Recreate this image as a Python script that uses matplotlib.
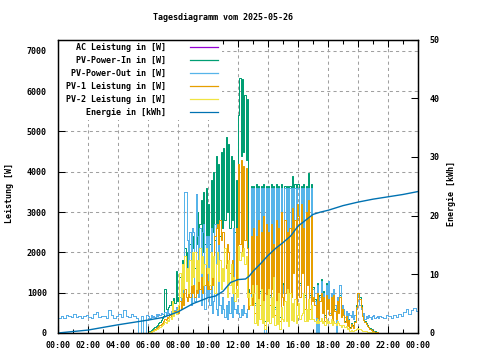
import numpy as np
import matplotlib
matplotlib.use("Agg")
import matplotlib.pyplot as plt
from matplotlib.ticker import MultipleLocator, FixedLocator, FixedFormatter
from matplotlib.lines import Line2D
from matplotlib.patches import Rectangle

plt.rcParams['font.family'] = ['DejaVu Sans Mono']
plt.rcParams['font.weight'] = 'bold'

title = "Tagesdiagramm vom 2025-05-26"
series_labels = ["AC Leistung in [W]", "PV-Power-In in [W]", "PV-Power-Out in [W]",
                 "PV-1 Leistung in [W]", "PV-2 Leistung in [W]", "Energie in [kWh]"]
series_colors = ["#9400d3", "#009e73", "#56b4e9", "#e69f00", "#f0e442", "#0072b2"]
hour_ticks = [0, 2, 4, 6, 8, 10, 12, 14, 16, 18, 20, 22, 24]
hour_labels = ["00:00", "02:00", "04:00", "06:00", "08:00", "10:00", "12:00",
               "14:00", "16:00", "18:00", "20:00", "22:00", "00:00"]
power_ticks = [0, 1000, 2000, 3000, 4000, 5000, 6000, 7000]
energy_ticks = [0, 10, 20, 30, 40, 50]

# time axes (hours): night at 10 min, day 06:00-21:25 at 5 min
t_am = np.arange(0, 36) / 6.0
t_day = np.arange(72, 258) / 12.0
t_pm = np.arange(129, 145) / 6.0

pv_out_am = [380, 420, 360, 450, 430, 400,
             470, 390, 420, 360, 410, 450,
             400, 370, 480, 520, 390, 430,
             410, 360, 580, 440, 380, 420,
             480, 400, 570, 420, 390, 460,
             430, 380, 0, 420, 0, 450]
pv_out_pm = [400, 380, 450, 420, 360, 440, 400, 470, 430, 520, 600, 480, 560, 620, 540, 600]

pv_out_day = [
    420, 380, 450, 400, 430, 390, 460, 420, 480, 440, 500, 460,
    480, 520, 440, 560, 500, 470, 540, 600, 520, 580, 640, 560,
    600, 900, 700, 1100, 800, 3500, 3500, 2300, 900, 2500, 700, 2600,
    2500, 800, 3450, 2400, 900, 2600, 700, 2500, 2700, 600, 2400, 900,
    2400, 700, 2600, 500, 800, 2700, 600, 450, 2200, 700, 500, 900,
    600, 400, 700, 350, 800, 500, 900, 400, 2600, 600, 500, 700,
    500, 400, 600, 450, 700, 500, 400, 600, 900, 700, 3600, 1000,
    3600, 700, 3600, 400, 3600, 1000, 3600, 600, 3600, 0, 3600, 800,
    3600, 900, 3600, 1500, 3600, 600, 3600, 700, 3600, 100, 3600, 1200,
    1000, 3600, 1300, 3600, 500, 3600, 1200, 3600, 1800, 3600, 900, 3600,
    3600, 1200, 3600, 2000, 3600, 900, 3600, 1500, 3600, 900, 3600, 1100,
    1100, 800, 0, 1200, 0, 900, 1300, 600, 1000, 400, 1200, 700,
    1300, 500, 1000, 300, 1100, 700, 0, 900, 600, 1200, 500, 700,
    600, 400, 550, 350, 500, 450, 400, 550, 350, 450, 600, 900,
    1000, 700, 600, 450, 500, 350, 420, 380, 450, 400, 350, 420,
    450, 380, 400, 420, 370, 430]

pv_in = [
    0, 60, 80, 100, 120, 150, 180, 200, 240, 280, 320, 360,
    420, 1090, 600, 500, 650, 700, 800, 620, 870, 750, 1540, 800,
    900, 1400, 1100, 1800, 1300, 2100, 1400, 2000, 1500, 2200, 1600, 2100,
    2400, 1600, 2200, 3000, 1800, 2700, 3300, 2000, 3500, 2200, 3600, 2400,
    3200, 2200, 3800, 2500, 4000, 2300, 4400, 2600, 4200, 2400, 4500, 2600,
    4600, 2800, 4850, 3000, 4700, 2600, 4400, 2800, 4300, 2500, 3800, 2600,
    5400, 6330, 4400, 6300, 4500, 5900, 4300, 5800, 1100, 1000, 3650, 1200,
    3650, 750, 3700, 450, 3650, 1050, 3650, 650, 3700, 300, 3650, 850,
    3650, 950, 3700, 1550, 3650, 650, 3700, 750, 3650, 400, 3700, 1250,
    1050, 3650, 1350, 3650, 550, 3650, 1250, 3900, 1850, 3700, 950, 3700,
    3700, 1250, 3650, 2050, 3700, 950, 3650, 1550, 3980, 950, 3700, 1150,
    1150, 850, 600, 1250, 500, 950, 1350, 650, 1050, 450, 1250, 750,
    900, 500, 950, 350, 1000, 600, 400, 850, 550, 950, 450, 650,
    500, 300, 450, 200, 350, 150, 250, 200, 150, 300, 700, 1000,
    1000, 900, 700, 450, 350, 300, 250, 200, 160, 120, 90, 70,
    50, 40, 30, 20, 10, 0]

pv1 = [
    0, 30, 45, 60, 80, 100, 120, 140, 170, 200, 230, 260,
    300, 350, 320, 400, 380, 450, 420, 500, 480, 550, 520, 600,
    500, 800, 600, 1000, 700, 1100, 900, 800, 1200, 900, 1300, 1000,
    1200, 900, 1300, 1000, 1500, 1100, 1400, 1000, 1300, 1200, 1600, 1100,
    1300, 1100, 1500, 1200, 1700, 2400, 2600, 2700, 2200, 2800, 2300, 2500,
    2500, 2000, 1600, 2200, 2000, 1500, 1200, 1800, 1400, 1000, 2600, 1200,
    4200, 2200, 4300, 2000, 4150, 2300, 4100, 2100, 600, 1000, 2400, 700,
    2600, 500, 2400, 250, 2800, 700, 2500, 400, 2900, 200, 2700, 550,
    2500, 700, 2700, 1100, 2200, 450, 2800, 500, 2600, 300, 3000, 900,
    700, 2800, 1000, 2500, 350, 2600, 900, 3100, 1500, 2800, 700, 3200,
    2900, 900, 3200, 1500, 2600, 600, 3000, 1200, 3300, 600, 2900, 800,
    900, 700, 400, 1000, 350, 800, 1000, 500, 900, 300, 950, 600,
    850, 450, 900, 300, 950, 550, 350, 800, 500, 900, 400, 600,
    450, 280, 420, 180, 320, 130, 230, 180, 130, 280, 650, 980,
    980, 850, 650, 420, 320, 270, 220, 180, 140, 100, 80, 60,
    45, 35, 25, 15, 5, 0]

pv2 = [
    0, 25, 35, 45, 60, 75, 90, 110, 130, 150, 170, 190,
    220, 280, 260, 330, 300, 400, 350, 800, 420, 520, 480, 580,
    700, 1500, 900, 1700, 1100, 1900, 1300, 1600, 1000, 1800, 1200, 2000,
    1400, 2000, 1100, 1800, 1300, 2100, 1500, 1900, 1200, 1700, 2100, 1500,
    1600, 1200, 2000, 1400, 1900, 1000, 1700, 2000, 1300, 1800, 1100, 1600,
    1300, 2100, 1700, 900, 1800, 1200, 1700, 1000, 1400, 800, 1100, 900,
    2150, 1800, 2000, 1900, 2100, 1700, 1900, 900, 1000, 700, 900, 1200,
    1000, 250, 1200, 200, 850, 350, 1100, 250, 800, 100, 950, 300,
    1100, 250, 900, 400, 1400, 200, 800, 220, 1000, 100, 650, 350,
    300, 800, 300, 1100, 180, 1000, 330, 750, 300, 850, 250, 450,
    750, 350, 450, 500, 1000, 300, 600, 300, 850, 350, 700, 350,
    350, 300, 250, 350, 250, 300, 370, 250, 300, 200, 350, 250,
    300, 250, 350, 200, 300, 250, 200, 300, 250, 200, 150, 200,
    200, 150, 180, 100, 120, 60, 80, 60, 50, 70, 90, 120,
    110, 90, 70, 60, 50, 45, 40, 35, 30, 30, 25, 20,
    15, 10, 10, 5, 0, 0]

energy_t = [0, 1, 2, 3, 4, 5, 6, 7, 8, 9, 10, 10.5, 11, 11.5, 12, 12.5, 12.75, 13, 13.5,
            14, 14.5, 15, 15.5, 16, 16.5, 17, 17.5, 18, 19, 20, 21, 22, 23, 24]
energy = [0, 0.25, 0.5, 0.95, 1.4, 1.8, 2.2, 2.65, 3.6, 5.0, 6.0, 6.3, 7.1, 8.6, 9.1, 9.2,
          9.7, 10.5, 11.8, 13.2, 14.4, 15.4, 16.5, 18.2, 19.2, 20.2, 20.6, 20.9, 21.7,
          22.3, 22.8, 23.2, 23.6, 24.1]

t_out = np.concatenate([t_am, t_day, t_pm])
pv_out = pv_out_am + pv_out_day + pv_out_pm
# AC output reads identical to PV-Power-Out (hidden beneath it)
ac_power = list(pv_out)

fig = plt.figure(figsize=(4.8, 3.6), dpi=100)
ax = fig.add_axes([58 / 480, 1 - 333 / 360, 360 / 480, (333 - 39.5) / 360])
ax.set_xlim(0, 24)
ax.set_ylim(0, 7280)
ax.set_axisbelow(True)
ax.grid(True, which='major', color='#a0a0a0', linestyle=(0, (3, 3)), linewidth=0.75)

# opaque key area (as in the original, grid hidden behind the key)
ax.add_patch(Rectangle((58 / 480, 1 - 120 / 360), (222 - 58) / 480, (120 - 39.5) / 360,
                       transform=fig.transFigure, facecolor='white', edgecolor='none',
                       zorder=1.5))

lw = 0.72
ax.plot(t_out, ac_power, color=series_colors[0], lw=lw, drawstyle='steps-post', zorder=2)
ax.plot(t_day, pv_in, color=series_colors[1], lw=lw, drawstyle='steps-post', zorder=2)
ax.plot(t_out, pv_out, color=series_colors[2], lw=lw, drawstyle='steps-post', zorder=2)
ax.plot(t_day, pv1, color=series_colors[3], lw=lw, drawstyle='steps-post', zorder=2)
ax.plot(t_day, pv2, color=series_colors[4], lw=lw, drawstyle='steps-post', zorder=2)

ax2 = ax.twinx()
ax2.set_ylim(0, 50)
ax2.plot(energy_t, energy, color=series_colors[5], lw=1.0)

ax.xaxis.set_major_locator(FixedLocator(hour_ticks))
ax.xaxis.set_major_formatter(FixedFormatter(hour_labels))
ax.xaxis.set_minor_locator(MultipleLocator(1))
ax.yaxis.set_major_locator(FixedLocator(power_ticks))
ax2.yaxis.set_major_locator(FixedLocator(energy_ticks))

ax.tick_params(axis='x', which='major', direction='in', length=5, width=0.75,
               labelsize=6, pad=5.5, top=True)
ax.tick_params(axis='x', which='minor', direction='in', length=3, width=0.75, top=True)
ax.tick_params(axis='y', which='major', direction='in', length=5, width=0.75,
               labelsize=6, pad=8, right=False)
ax2.tick_params(axis='y', which='major', direction='in', length=5, width=0.75,
                labelsize=6, pad=8)
for a in (ax, ax2):
    for s in a.spines.values():
        s.set_linewidth(0.9)

fig.text(223 / 480, 1 - 18 / 360, title, ha='center', va='center', fontsize=6)
fig.text(10 / 480, 1 - 193 / 360, "Leistung [W]", rotation=90, ha='center', va='center', fontsize=6)
fig.text(452 / 480, 1 - 193 / 360, "Energie [kWh]", rotation=90, ha='center', va='center', fontsize=6)

for i, (lab, col) in enumerate(zip(series_labels, series_colors)):
    ypx = 47.3 + 13 * i
    fig.text(166 / 480, 1 - ypx / 360, lab, ha='right', va='center', fontsize=6)
    fig.add_artist(Line2D([190 / 480, 218 / 480], [1 - ypx / 360] * 2,
                          transform=fig.transFigure, color=col, lw=0.9))

fig.savefig("out.png", dpi=100)
